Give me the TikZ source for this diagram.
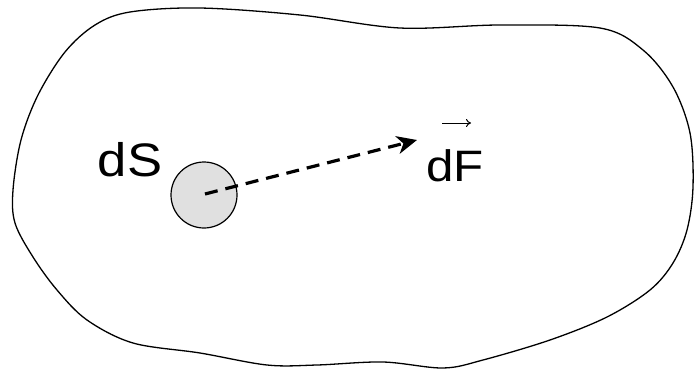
\documentclass[tikz,border=0pt]{standalone}
\usepackage{fontspec}
\setmainfont{Liberation Sans}
\usetikzlibrary{arrows.meta}
\tikzset{
  blob/.style={draw=black, line width=1.3pt},
  patch/.style={circle, draw=black, fill=black!12, line width=1.2pt, minimum size=66pt, inner sep=0pt},
  lbl/.style={font=\fontsize{47}{47}\selectfont, inner sep=0pt, xscale=1.12},
  lblsmall/.style={font=\fontsize{44}{44}\selectfont, inner sep=0pt, xscale=1.12},
  force/.style={line width=3.2pt, dash pattern=on 13pt off 8pt, -{Stealth[length=20pt,width=18pt,inset=6pt]}},
  vec/.style={line width=1pt, -{To[length=5pt,width=8pt]}}
}
\begin{document}
\begin{tikzpicture}[x=1pt,y=-1pt]
\useasboundingbox (0,0) rectangle (696,372);
\draw[blob] plot[smooth cycle, tension=0.55] coordinates {
 (130,12) (200,8) (300,15) (400,28) (500,25) (600,28) (643,50) (673,87)
 (690,133) (693,187) (687,230) (673,263) (650,290) (607,317) (550,340)
 (483,360) (443,368) (383,362) (317,365) (267,365) (200,353) (133,343)
 (87,320) (57,290) (33,257) (15,223) (13,190) (21,140) (38,95) (65,52) (95,25)};
\node[patch] (ds) at (204,195) {};
\coordinate (c) at (205,194);
\node[lbl, anchor=base] (dslabel) at (130,176) {dS};
\node[lblsmall, anchor=base] (df) at (455,181) {dF};
\coordinate (tip) at (417,140);
\draw[force] (c) -- (tip);
\coordinate (va) at (442,123);
\coordinate (vb) at (471,123);
\draw[vec] (va) -- (vb);
\end{tikzpicture}
\end{document}
